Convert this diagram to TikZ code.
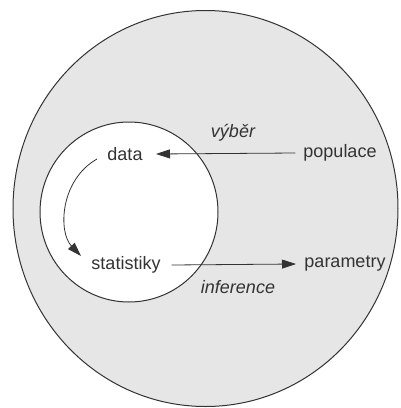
\documentclass[tikz,border=0pt]{standalone}
\usepackage{fontspec}
\setmainfont{Liberation Sans}
\usetikzlibrary{arrows.meta}
\definecolor{bg}{HTML}{E6E6E6}
\definecolor{ink}{HTML}{333333}
\begin{document}
\begin{tikzpicture}[x=1pt,y=-1pt,
  lbl/.style={text=ink,font=\fontsize{18}{20}\selectfont,inner sep=1pt},
  ilbl/.style={lbl,font=\fontsize{18}{20}\selectfont\itshape},
  conn/.style={draw=ink,line width=0.8pt,-{Triangle[length=14pt,width=9pt]}}]
\useasboundingbox (0,0) rectangle (400,408);
\fill[white] (0,0) rectangle (400,408);
\draw[ink,line width=1pt,fill=bg] (205.5,208.5) ellipse [x radius=192.5, y radius=198];
\draw[ink,line width=1pt,fill=white] (129,212) ellipse [x radius=89, y radius=90];
\node[lbl] (data) at (125,154) {data};
\node[lbl] (populace) at (340,153) {populace};
\node[ilbl] (vyber) at (233,133) {výběr};
\node[lbl] (statistiky) at (126,265) {statistiky};
\node[lbl] (parametry) at (345,264) {parametry};
\node[ilbl] (inference) at (238,287) {inference};
\coordinate (cs) at (97,159);
\coordinate (ce) at (81,256);
\draw[conn] (populace.west) ++(-7,0) coordinate (p1) -- (data.east -| 156,0);
\draw[conn] (statistiky.east) ++(10,0) coordinate (s1) -- (parametry.west -| 296,0);
\draw[conn] (cs) .. controls (60,180) and (58,232) .. (ce);
\end{tikzpicture}
\end{document}
